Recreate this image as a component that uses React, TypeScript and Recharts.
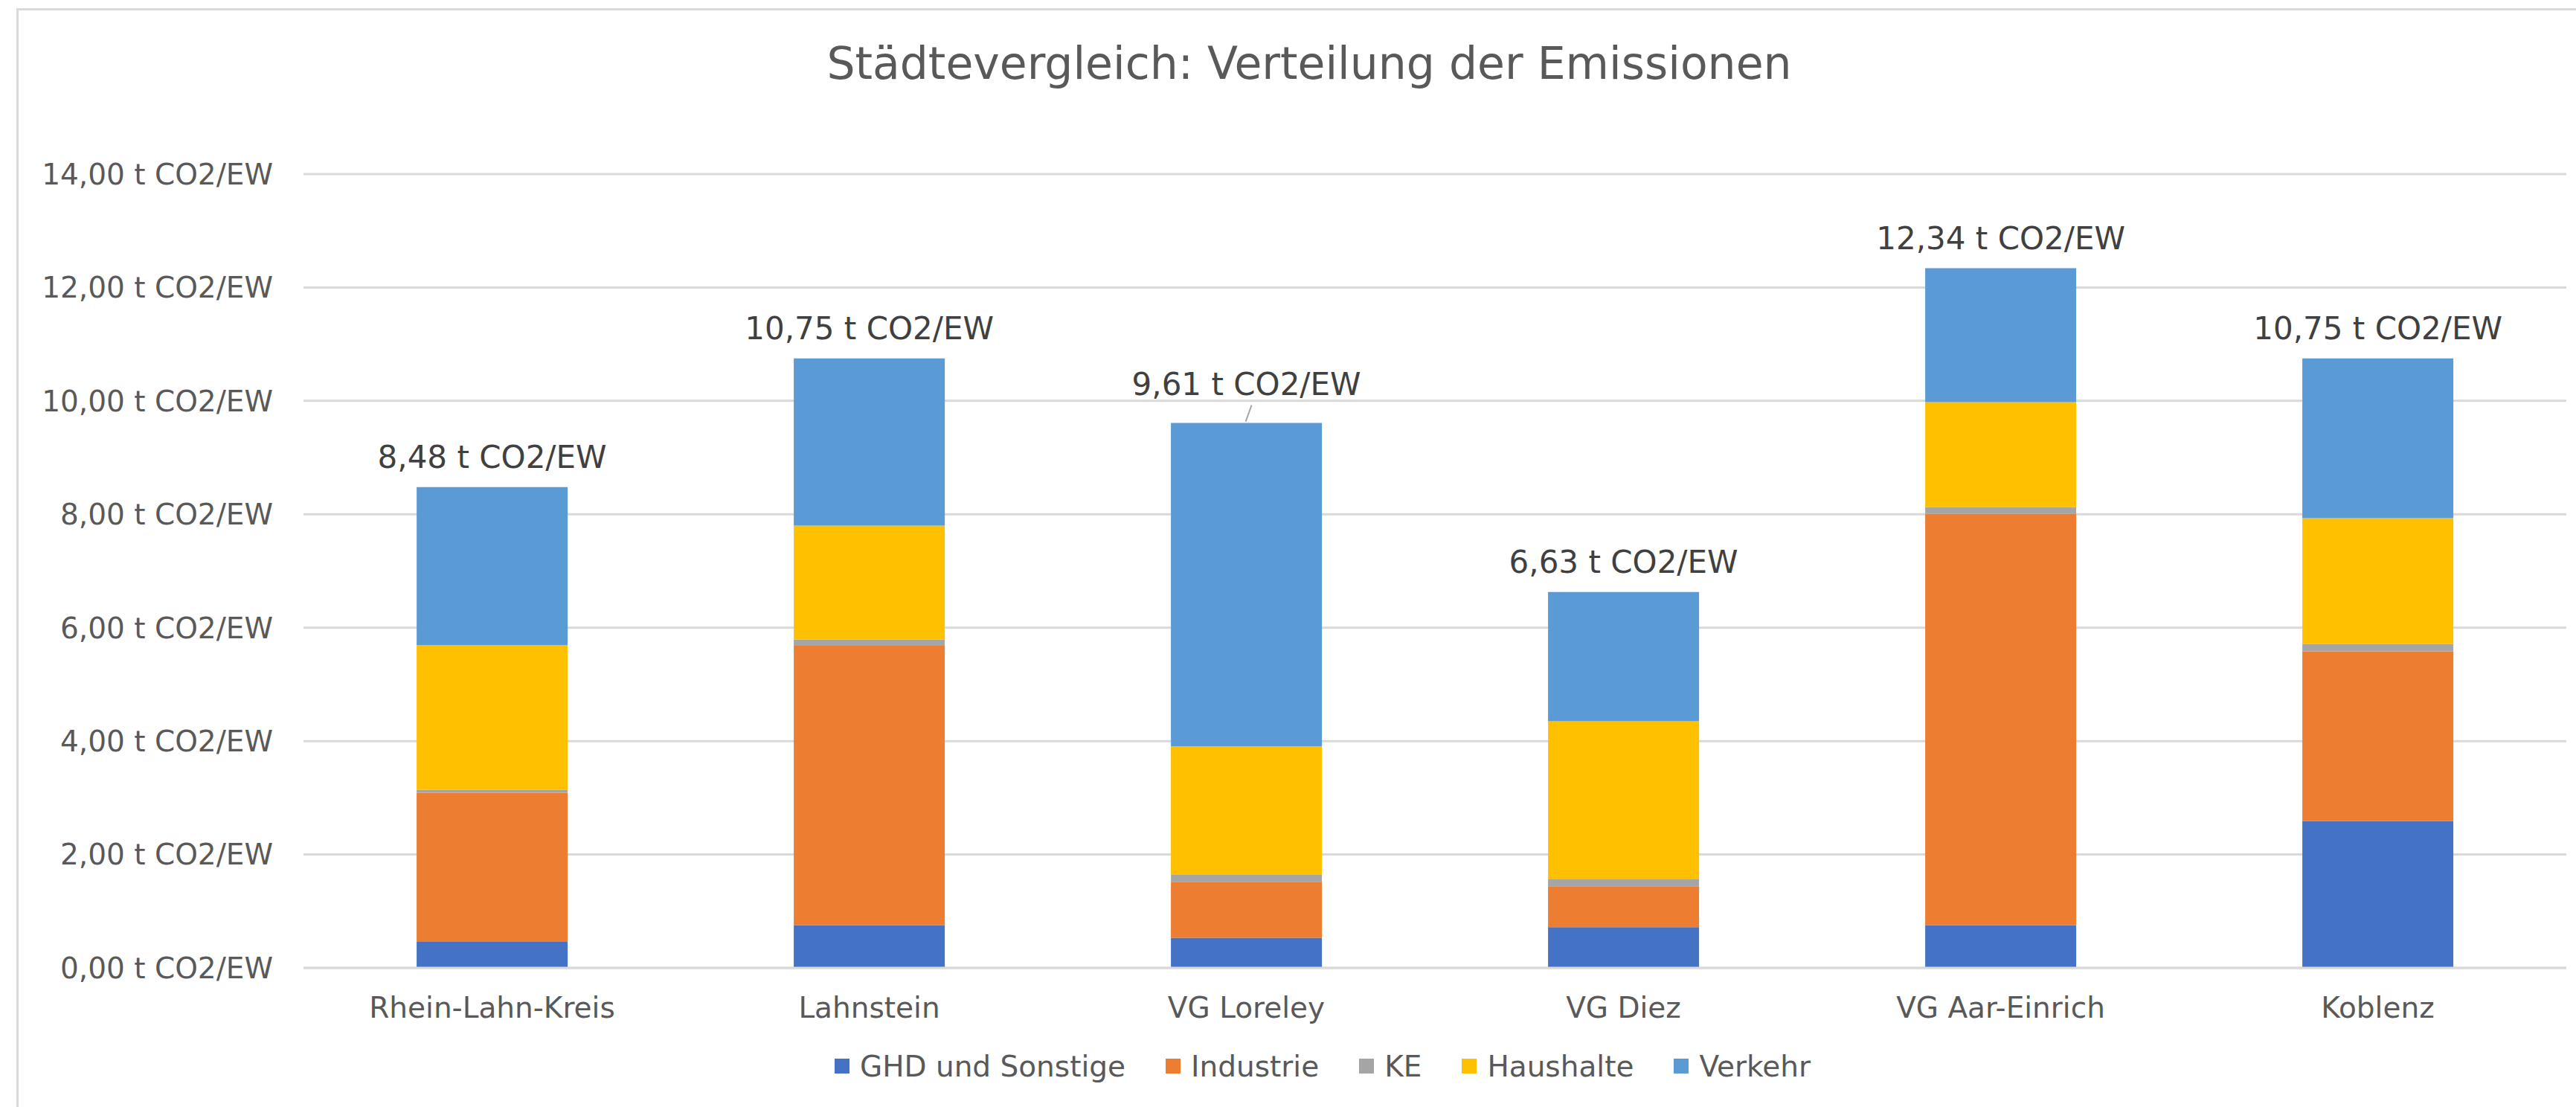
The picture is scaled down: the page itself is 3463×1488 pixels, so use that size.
import React from 'react';
import {
  Bar,
  BarChart,
  CartesianGrid,
  LabelList,
  Legend,
  XAxis,
  YAxis,
} from 'recharts';

const cities = [
  'Rhein-Lahn-Kreis',
  'Lahnstein',
  'VG Loreley',
  'VG Diez',
  'VG Aar-Einrich',
  'Koblenz',
];
const ghd = [0.46, 0.75, 0.53, 0.72, 0.75, 2.59];
const industrie = [2.63, 4.93, 0.99, 0.72, 7.26, 2.99];
const ke = [0.05, 0.11, 0.13, 0.12, 0.12, 0.13];
const haushalte = [2.55, 2.01, 2.26, 2.79, 1.85, 2.22];
const verkehr = [2.79, 2.95, 5.7, 2.28, 2.36, 2.82];
const totals = [8.48, 10.75, 9.61, 6.63, 12.34, 10.75];
const yTicks = [0, 2, 4, 6, 8, 10, 12, 14];
const seriesNames = ['GHD und Sonstige', 'Industrie', 'KE', 'Haushalte', 'Verkehr'];

const data = cities.map((city, i) => ({
  city,
  ghd: ghd[i],
  industrie: industrie[i],
  ke: ke[i],
  haushalte: haushalte[i],
  verkehr: verkehr[i],
  total: totals[i],
}));

const FONT = '"DejaVu Sans", Verdana, sans-serif';
const TEXT = '#595959';
const GRID = '#d9d9d9';
// label that Excel moved up and joined to its bar with a leader line
const LEADER_CITY = 'VG Loreley';

const fmt = (v: number) => `${v.toFixed(2).replace('.', ',')} t CO2/EW`;

const TotalLabel = (props: any) => {
  const { x, y, width, value, index } = props;
  const cx = x + width / 2;
  const lifted = cities[index] === LEADER_CITY;
  return (
    <g>
      {lifted && (
        <line
          x1={cx + 7}
          y1={y - 24}
          x2={cx - 1}
          y2={y - 2}
          stroke="#a6a6a6"
          strokeWidth={2}
        />
      )}
      <text
        x={cx}
        y={y - (lifted ? 38 : 26)}
        textAnchor="middle"
        fill="#404040"
        fontSize={42}
        fontFamily={FONT}
      >
        {fmt(value)}
      </text>
    </g>
  );
};

const LegendContent = (props: any) => {
  const items = [...(props.payload || [])].sort(
    (a: any, b: any) => seriesNames.indexOf(a.value) - seriesNames.indexOf(b.value)
  );
  return (
    <div
      style={{
        display: 'flex',
        justifyContent: 'center',
        alignItems: 'center',
        height: 60,
        paddingLeft: 106,
        fontFamily: FONT,
        fontSize: 39,
        color: TEXT,
      }}
    >
      {items.map((it: any, i: number) => (
        <div
          key={it.value}
          style={{
            display: 'flex',
            alignItems: 'center',
            marginRight: i === items.length - 1 ? 0 : 54,
          }}
        >
          <span
            style={{
              width: 20,
              height: 20,
              background: it.color,
              marginRight: 14,
              display: 'inline-block',
            }}
          />
          <span>{it.value}</span>
        </div>
      ))}
    </div>
  );
};

export default function App() {
  return (
    <div
      style={{
        position: 'absolute',
        left: 0,
        top: 0,
        width: 3463,
        height: 1488,
        background: '#fff',
        overflow: 'hidden',
      }}
    >
      <div
        style={{
          position: 'absolute',
          left: 22,
          top: 11,
          width: 3600,
          height: 1600,
          borderTop: `3px solid ${GRID}`,
          borderLeft: `3px solid ${GRID}`,
        }}
      />
      <div
        style={{
          position: 'absolute',
          left: 0,
          top: 49,
          width: 3520,
          textAlign: 'center',
          fontFamily: FONT,
          fontSize: 60,
          color: TEXT,
          lineHeight: '72px',
        }}
      >
        Städtevergleich: Verteilung der Emissionen
      </div>
      <div style={{ position: 'absolute', left: 0, top: 0 }}>
        <BarChart
          width={3463}
          height={1488}
          data={data}
          margin={{ top: 234, right: 13, bottom: 25, left: 0 }}
          barCategoryGap="30%"
        >
          <CartesianGrid vertical={false} stroke={GRID} strokeWidth={3} />
          <XAxis
            dataKey="city"
            height={102}
            axisLine={{ stroke: GRID, strokeWidth: 3 }}
            tickLine={false}
            tickSize={0}
            tickMargin={39}
            tick={{ fill: TEXT, fontSize: 39, fontFamily: FONT }}
          />
          <YAxis
            width={408}
            domain={[0, 14]}
            ticks={yTicks}
            interval={0}
            axisLine={false}
            tickLine={false}
            tickSize={0}
            tickMargin={41}
            tickFormatter={fmt}
            tick={{ fill: TEXT, fontSize: 39, fontFamily: FONT }}
          />
          <Legend verticalAlign="bottom" content={<LegendContent />} />
          <Bar
            dataKey="ghd"
            name="GHD und Sonstige"
            stackId="a"
            fill="#4472C4"
            isAnimationActive={false}
          />
          <Bar
            dataKey="industrie"
            name="Industrie"
            stackId="a"
            fill="#ED7D31"
            isAnimationActive={false}
          />
          <Bar
            dataKey="ke"
            name="KE"
            stackId="a"
            fill="#A5A5A5"
            isAnimationActive={false}
          />
          <Bar
            dataKey="haushalte"
            name="Haushalte"
            stackId="a"
            fill="#FFC000"
            isAnimationActive={false}
          />
          <Bar
            dataKey="verkehr"
            name="Verkehr"
            stackId="a"
            fill="#5B9BD5"
            isAnimationActive={false}
          >
            <LabelList dataKey="total" content={<TotalLabel />} />
          </Bar>
        </BarChart>
      </div>
    </div>
  );
}
